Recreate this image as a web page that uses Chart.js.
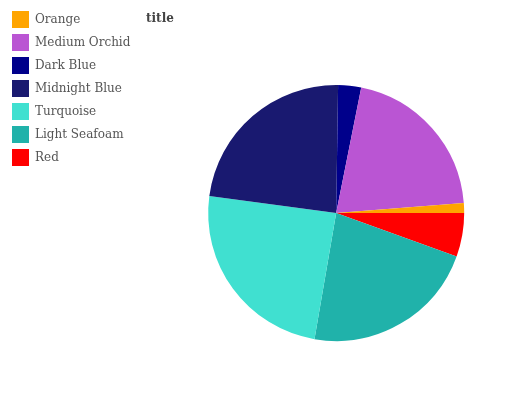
<!DOCTYPE html>
<html>
<head>
<meta charset="utf-8">
<script src="https://cdn.jsdelivr.net/npm/chart.js@4/dist/chart.umd.min.js"></script>
<style>
  html, body { margin: 0; padding: 0; background: #fff; }
  #wrap { width: 532px; height: 400px; }
</style>
</head>
<body>
<div id="wrap"><canvas id="c" width="532" height="400"></canvas></div>
<script>
const categories = ["Orange", "Medium Orchid", "Dark Blue", "Midnight Blue", "Turquoise", "Light Seafoam", "Red"];
const values = [1.25, 20.6, 2.9, 23.1, 24.4, 22.2, 5.5];
const sliceColors = ["#FFA500", "#BA55D3", "#00008B", "#191970", "#40E0D0", "#20B2AA", "#FF0000"];
const chartTitle = "title";

// matplotlib-style counter-clockwise from 3 o'clock: feed Chart.js reversed order, clockwise
const revLabels = categories.slice().reverse();
const revValues = values.slice().reverse();
const revColors = sliceColors.slice().reverse();

const titleShift = {
  id: 'titleShift',
  afterLayout(chart) {
    const t = chart.titleBlock;
    if (t) { const w = t.right - t.left; t.left = 146; t.right = 146 + w; }
  }
};

new Chart(document.getElementById('c'), {
  type: 'pie',
  data: {
    labels: revLabels,
    datasets: [{
      data: revValues,
      backgroundColor: revColors,
      borderWidth: 0,
      hoverOffset: 0
    }]
  },
  options: {
    responsive: false,
    animation: false,
    rotation: 90,
    layout: { padding: { top: 5, left: 6, bottom: 59, right: 0 } },
    plugins: {
      tooltip: { enabled: false },
      legend: {
        position: 'left',
        align: 'start',
        reverse: true,
        labels: {
          boxWidth: 17,
          boxHeight: 17,
          padding: 6,
          color: '#555555',
          font: { family: 'DejaVu Serif', size: 12 }
        }
      },
      title: {
        display: true,
        text: chartTitle,
        align: 'start',
        fullSize: false,
        color: '#444444',
        font: { family: 'DejaVu Serif', size: 12, weight: 'bold', lineHeight: 1.2 },
        padding: { top: 7, bottom: 58.6 }
      }
    }
  },
  plugins: [titleShift]
});
</script>
</body>
</html>
